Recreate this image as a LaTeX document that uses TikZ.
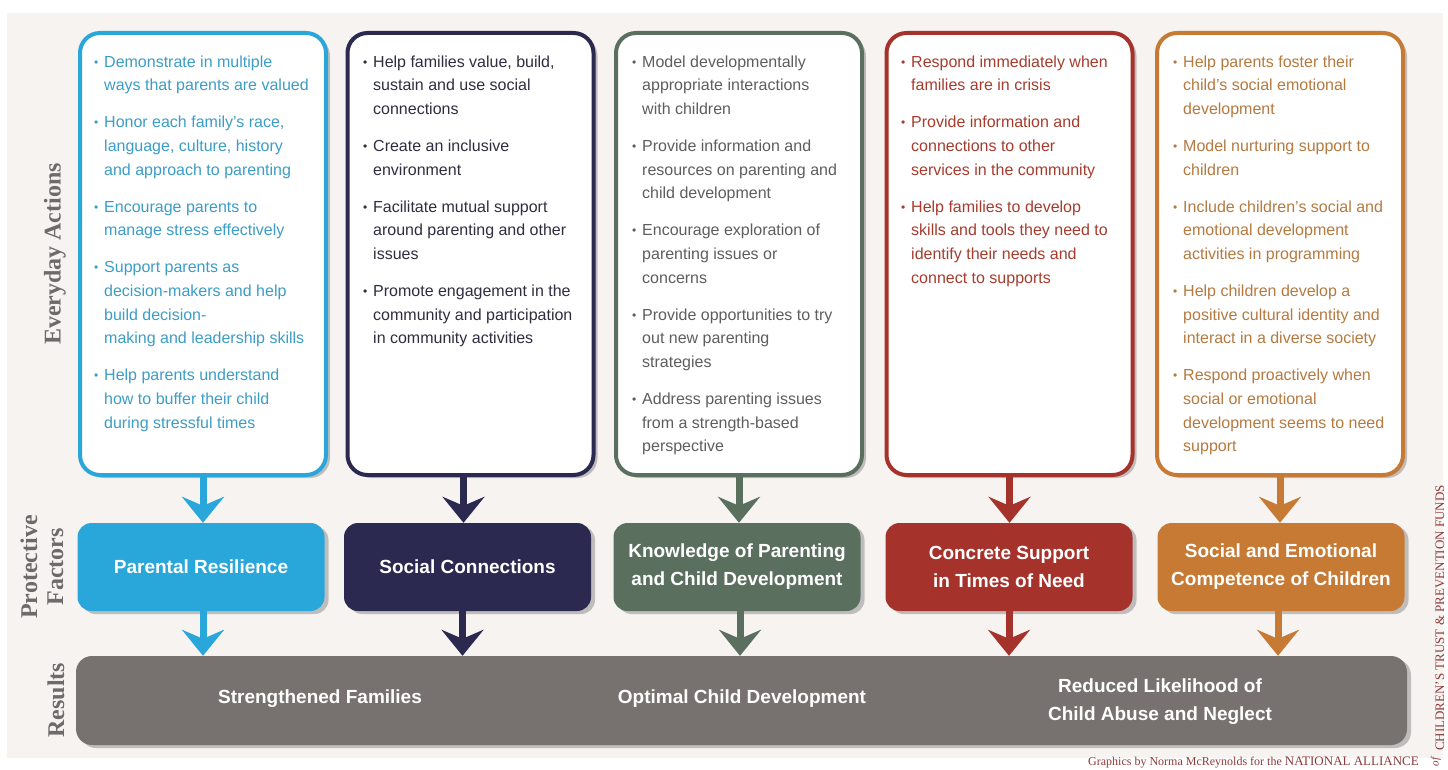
\documentclass[tikz,border=0pt]{standalone}
\usepackage{fontspec}
\setmainfont{Liberation Serif}
\setsansfont{Liberation Sans}
\usetikzlibrary{arrows.meta,shadows}
\definecolor{bgc}{HTML}{F6F3F1}
\definecolor{cyanC}{HTML}{2AA7DA}
\definecolor{cyanT}{HTML}{3C9DC6}
\definecolor{navyC}{HTML}{2C2950}
\definecolor{navyT}{HTML}{2F2E40}
\definecolor{greenC}{HTML}{5B6F5F}
\definecolor{greenT}{HTML}{5E5E5E}
\definecolor{redC}{HTML}{A5322B}
\definecolor{redT}{HTML}{A63C2E}
\definecolor{orangeC}{HTML}{C67A33}
\definecolor{orangeT}{HTML}{B57A40}
\definecolor{grayC}{HTML}{777270}
\definecolor{labelC}{HTML}{6E6A69}
\definecolor{brandC}{HTML}{8E3B3B}
\newcommand\bu{\makebox[10pt][l]{\fontsize{12}{12}\selectfont\raisebox{1pt}{•}}}
\newcommand\hg{\hspace*{10pt}}
\newcommand\gap{\\[13.5pt]}
\begin{document}
\begin{tikzpicture}[x=1pt,y=-1pt,
  shad/.style={drop shadow={shadow xshift=4pt,shadow yshift=-3pt,opacity=0.22,fill=black}},
  actbox/.style={draw=#1,line width=4pt,rounded corners=20pt,fill=white,minimum width=246pt,minimum height=442pt,inner sep=0pt,shad},
  facbox/.style={fill=#1,rounded corners=14pt,minimum width=247pt,minimum height=88pt,inner sep=0pt,text=white,align=center,font=\sffamily\bfseries\fontsize{19}{28}\selectfont,shad},
  acttext/.style={anchor=north west,align=left,inner sep=0pt,text=#1,font=\sffamily\fontsize{16}{23.6}\selectfont},
  restext/.style={text=white,align=center,inner sep=0pt,font=\sffamily\bfseries\fontsize{19}{28}\selectfont},
  arr/.style={draw=#1,line width=7pt,-{Stealth[length=26pt,width=42pt,inset=9pt]}},
  sidelabel/.style={rotate=90,text=labelC,align=center,inner sep=0pt,font=\bfseries\fontsize{24}{26}\selectfont}
]
\useasboundingbox (0,0) rectangle (1448,770);
\fill[white] (0,0) rectangle (1448,770);
\fill[bgc] (7,13) rectangle (1443,758);

% action boxes
\node[actbox=cyanC]   (a1) at (203,254) {};
\node[actbox=navyC]   (a2) at (470.5,254) {};
\node[actbox=greenC]  (a3) at (739,254) {};
\node[actbox=redC]    (a4) at (1009.5,254) {};
\node[actbox=orangeC] (a5) at (1280,254) {};

\node[acttext=cyanT] (t1) at (94,55.5) {\bu Demonstrate in multiple\\
\hg ways that parents are valued\gap
\bu Honor each family’s race,\\
\hg language, culture, history\\
\hg and approach to parenting\gap
\bu Encourage parents to\\
\hg manage stress effectively\gap
\bu Support parents as\\
\hg decision-makers and help\\
\hg build decision-\\
\hg making and leadership skills\gap
\bu Help parents understand\\
\hg how to buffer their child\\
\hg during stressful times};

\node[acttext=navyT] (t2) at (363,55.5) {\bu Help families value, build,\\
\hg sustain and use social\\
\hg connections\gap
\bu Create an inclusive\\
\hg environment\gap
\bu Facilitate mutual support\\
\hg around parenting and other\\
\hg issues\gap
\bu Promote engagement in the\\
\hg community and participation\\
\hg in community activities};

\node[acttext=greenT] (t3) at (632,55.5) {\bu Model developmentally\\
\hg appropriate interactions\\
\hg with children\gap
\bu Provide information and\\
\hg resources on parenting and\\
\hg child development\gap
\bu Encourage exploration of\\
\hg parenting issues or\\
\hg concerns\gap
\bu Provide opportunities to try\\
\hg out new parenting\\
\hg strategies\gap
\bu Address parenting issues\\
\hg from a strength-based\\
\hg perspective};

\node[acttext=redT] (t4) at (901,55.5) {\bu Respond immediately when\\
\hg families are in crisis\gap
\bu Provide information and\\
\hg connections to other\\
\hg services in the community\gap
\bu Help families to develop\\
\hg skills and tools they need to\\
\hg identify their needs and\\
\hg connect to supports};

\node[acttext=orangeT] (t5) at (1173,55.5) {\bu Help parents foster their\\
\hg child’s social emotional\\
\hg development\gap
\bu Model nurturing support to\\
\hg children\gap
\bu Include children’s social and\\
\hg emotional development\\
\hg activities in programming\gap
\bu Help children develop a\\
\hg positive cultural identity and\\
\hg interact in a diverse society\gap
\bu Respond proactively when\\
\hg social or emotional\\
\hg development seems to need\\
\hg support};

% protective factors
\node[facbox=cyanC]   (f1) at (201,567) {Parental Resilience};
\node[facbox=navyC]   (f2) at (467.5,567) {Social Connections};
\node[facbox=greenC]  (f3) at (737,567) {Knowledge of Parenting\\and Child Development};
\node[facbox=redC]    (f4) at (1009,567) {Concrete Support\\in Times of Need};
\node[facbox=orangeC] (f5) at (1281,567) {Social and Emotional\\Competence of Children};

% results
\node[fill=grayC,rounded corners=16pt,minimum width=1331pt,minimum height=89pt,inner sep=0pt,shad] (r) at (741.5,700.5) {};
\node[restext] (r1) at (320,699) {Strengthened Families};
\node[restext] (r2) at (742,699) {Optimal Child Development};
\node[restext] (r3) at (1160,702) {Reduced Likelihood of\\Child Abuse and Neglect};

% arrows
\draw[arr=cyanC]   (a1.south) -- (a1.south |- f1.north);
\draw[arr=navyC]   ([xshift=-7pt]a2.south) -- ([xshift=-7pt]a2.south |- f2.north);
\draw[arr=greenC]  (a3.south) -- (a3.south |- f3.north);
\draw[arr=redC]    (a4.south) -- (a4.south |- f4.north);
\draw[arr=orangeC] (a5.south) -- (a5.south |- f5.north);

\draw[arr=cyanC]   ([xshift=2pt]f1.south) -- ([xshift=2pt]f1.south |- r.north);
\draw[arr=navyC]   ([xshift=-5pt]f2.south) -- ([xshift=-5pt]f2.south |- r.north);
\draw[arr=greenC]  ([xshift=3pt]f3.south) -- ([xshift=3pt]f3.south |- r.north);
\draw[arr=redC]    (f4.south) -- (f4.south |- r.north);
\draw[arr=orangeC] ([xshift=-3pt]f5.south) -- ([xshift=-3pt]f5.south |- r.north);

% side labels
\node[sidelabel] (l1) at (55,254) {Everyday Actions};
\node[sidelabel] (l2) at (42,567) {Protective\\Factors};
\node[sidelabel] (l3) at (56,700) {Results};

% credits
\node[rotate=90,anchor=west,inner sep=0pt,text=brandC,font=\fontsize{13}{13}\selectfont] (c1) at (1440,751) {CHILDREN’S TRUST \& PREVENTION FUNDS};
\node[rotate=90,inner sep=0pt,text=brandC,font=\itshape\fontsize{11}{11}\selectfont] (c2) at (1436,762) {of};
\node[anchor=base east,inner sep=0pt,text=brandC,font=\fontsize{12}{12}\selectfont] (c3) at (1419,765) {Graphics by Norma McReynolds for the {\fontsize{13}{13}\selectfont NATIONAL ALLIANCE}};
\end{tikzpicture}
\end{document}
